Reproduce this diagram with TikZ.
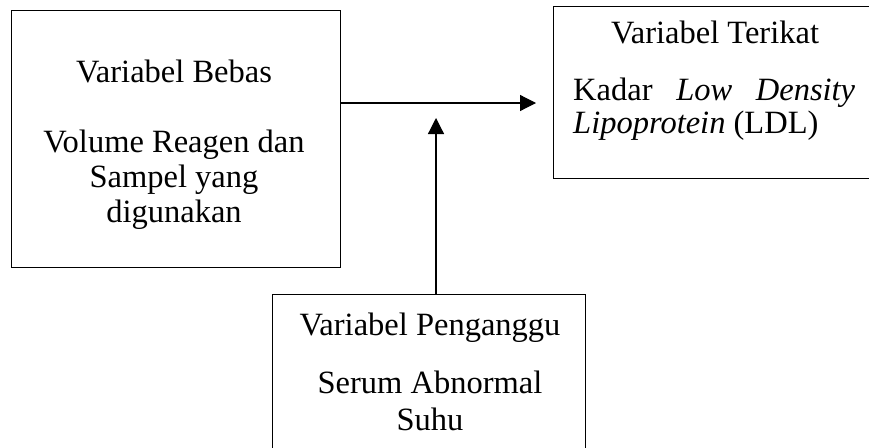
\documentclass[tikz,border=0pt]{standalone}
\usepackage{fontspec}
\setmainfont{Liberation Serif}
\usetikzlibrary{arrows.meta}
\begin{document}
\begin{tikzpicture}[x=1pt,y=-1pt,
  boxst/.style={draw,line width=1pt,inner sep=0pt,outer sep=0pt},
  txt/.style={anchor=base,inner sep=0pt,font=\fontsize{32.5}{36}\selectfont},
  conn/.style={line width=1.2pt,-{Triangle[length=16pt,width=16pt]}}]
\useasboundingbox (0,0) rectangle (869,447);
\clip (0,0) rectangle (869,447);
\node[boxst,minimum width=329pt,minimum height=257pt] (bebas) at (175.5,138.5) {};
\node[boxst,minimum width=330pt,minimum height=172pt] (terikat) at (718,92) {};
\node[boxst,minimum width=313pt,minimum height=180pt] (pengganggu) at (428.5,384) {};
% left box text
\node[txt] (b1) at (174,82) {Variabel Bebas};
\node[txt] (b2) at (174,152) {Volume Reagen dan};
\node[txt] (b3) at (174,187) {Sampel yang};
\node[txt] (b4) at (174,222) {digunakan};
% right box text
\node[txt] (t1) at (715,43) {Variabel Terikat};
\node[txt,anchor=base west] (t2) at (573,100) {\makebox[282pt][s]{Kadar \textit{Low} \textit{Density}}};
\node[txt,anchor=base west] (t3) at (573,133) {\textit{Lipoprotein} (LDL)};
% bottom box text
\node[txt] (p1) at (430,335) {Variabel Penganggu};
\node[txt] (p2) at (430,393) {Serum Abnormal};
\node[txt] (p3) at (430,430) {Suhu};
% connectors
\coordinate (hend) at (536,103);
\coordinate (vend) at (436,118);
\draw[conn] (bebas.east |- hend) -- (hend);
\draw[conn] (pengganggu.north -| vend) -- (vend);
\end{tikzpicture}
\end{document}
